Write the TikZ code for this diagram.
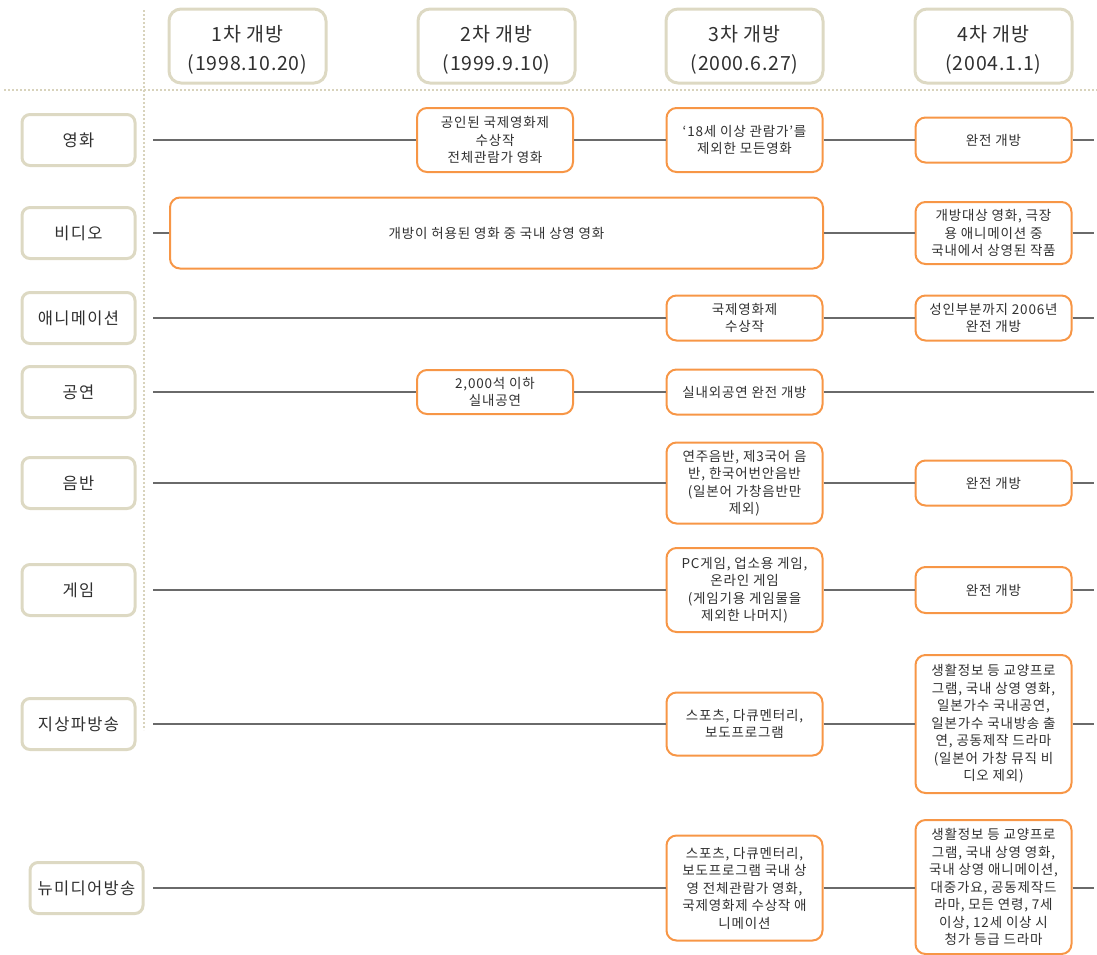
\documentclass[tikz,border=0pt]{standalone}
\usepackage{fontspec}
\setmainfont{Noto Sans CJK KR}
\newfontfamily\hdrfont[LetterSpace=4]{Noto Sans CJK KR}
\newfontfamily\labfont[LetterSpace=8]{Noto Sans CJK KR}
\newfontfamily\boxfont[LetterSpace=6]{Noto Sans CJK KR}
\definecolor{beige}{HTML}{DDD9C3}
\definecolor{dotc}{HTML}{D8D3BC}
\definecolor{orng}{HTML}{F79646}
\definecolor{linegray}{HTML}{6A6A6A}
\definecolor{txt}{HTML}{303030}
\begin{document}
\begin{tikzpicture}[x=1pt,y=-1pt,
  hdr/.style={draw=beige, line width=3pt, rounded corners=12pt, minimum width=157pt, minimum height=74pt, inner sep=0pt},
  hdrtxt/.style={align=center, inner sep=0pt, text=txt, font=\hdrfont\fontsize{19.5}{29}\selectfont},
  lab/.style={draw=beige, line width=3pt, rounded corners=8pt, minimum width=113pt, minimum height=51pt, inner sep=0pt, text=txt, font=\labfont\fontsize{16.5}{20}\selectfont},
  cbox/.style={draw=orng, line width=2pt, rounded corners=10pt, minimum width=156pt, align=center, inner sep=0pt, text=txt, font=\boxfont\fontsize{13.5}{17.5}\selectfont},
  conn/.style={draw=linegray, line width=1.3pt},
  dotl/.style={draw=dotc, line width=1.6pt, dash pattern=on 1.6pt off 2.4pt}
]
\useasboundingbox (0,0) rectangle (1097,954);
% dotted grid lines
\coordinate (vt) at (144,10);
\coordinate (vb) at (144,730);
\coordinate (hl) at (4,90);
\coordinate (hr) at (1097,90);
\draw[dotl] (vt) -- (vb);
\draw[dotl] (hl) -- (hr);
% headers
\node[hdr] (h1) at (247.5,46) {};
\node[hdr] (h2) at (496.5,46) {};
\node[hdr] (h3) at (744.5,46) {};
\node[hdr] (h4) at (993.5,46) {};
\node[hdrtxt] (t1) at ([yshift=-4pt]h1.center) {1차 개방\\(1998.10.20)};
\node[hdrtxt] (t2) at ([yshift=-4pt]h2.center) {2차 개방\\(1999.9.10)};
\node[hdrtxt] (t3) at ([yshift=-4pt]h3.center) {3차 개방\\(2000.6.27)};
\node[hdrtxt] (t4) at ([yshift=-4pt]h4.center) {4차 개방\\(2004.1.1)};
% row labels
\node[lab] (l1) at (78.5,140) {영화};
\node[lab] (l2) at (78.5,233) {비디오};
\node[lab] (l3) at (78.5,318) {애니메이션};
\node[lab] (l4) at (78.5,392) {공연};
\node[lab] (l5) at (78.5,483) {음반};
\node[lab] (l6) at (78.5,590) {게임};
\node[lab] (l7) at (78.5,724) {지상파방송};
\node[lab] (l8) at (86.5,888) {뉴미디어방송};
% start / end coordinates
\foreach \n/\y in {1/140,2/233,3/318,4/392,5/483,6/590,7/724,8/888}{
  \coordinate (s\n) at (153,\y);
  \coordinate (e\n) at (1094,\y);
}
% row 1
\node[cbox, minimum height=64pt] (b12) at (495,140) {공인된 국제영화제\\수상작\\전체관람가 영화};
\node[cbox, minimum height=64pt] (b13) at (744.5,140) {‘18세 이상 관람가’를\\제외한 모든영화};
\node[cbox, minimum height=45pt] (b14) at (993.5,140) {완전 개방};
\draw[conn] (s1) -- (b12) (b12) -- (b13) (b13) -- (b14) (b14) -- (e1);
% row 2
\node[cbox, minimum width=653pt, minimum height=71pt] (b2) at (496.5,233) {개방이 허용된 영화 중 국내 상영 영화};
\node[cbox, minimum height=62pt] (b24) at (993.5,233) {개방대상 영화, 극장\\용 애니메이션 중\\국내에서 상영된 작품};
\draw[conn] (s2) -- (b2) (b2) -- (b24) (b24) -- (e2);
% row 3
\node[cbox, minimum height=45pt] (b33) at (744.5,318) {국제영화제\\수상작};
\node[cbox, minimum height=45pt] (b34) at (993.5,318) {성인부분까지 2006년\\완전 개방};
\draw[conn] (s3) -- (b33) (b33) -- (b34) (b34) -- (e3);
% row 4
\node[cbox, minimum height=44pt] (b42) at (495,392) {2,000석 이하\\실내공연};
\node[cbox, minimum height=45pt] (b43) at (744.5,392) {실내외공연 완전 개방};
\draw[conn] (s4) -- (b42) (b42) -- (b43) (b43) -- (e4);
% row 5
\node[cbox, minimum height=81pt] (b53) at (744.5,483) {연주음반, 제3국어 음\\반, 한국어번안음반\\(일본어 가창음반만\\제외)};
\node[cbox, minimum height=45pt] (b54) at (993.5,483) {완전 개방};
\draw[conn] (s5) -- (b53) (b53) -- (b54) (b54) -- (e5);
% row 6
\node[cbox, minimum height=84pt] (b63) at (744.5,590) {PC게임, 업소용 게임,\\온라인 게임\\(게임기용 게임물을\\제외한 나머지)};
\node[cbox, minimum height=46pt] (b64) at (993.5,590) {완전 개방};
\draw[conn] (s6) -- (b63) (b63) -- (b64) (b64) -- (e6);
% row 7
\node[cbox, minimum height=63pt] (b73) at (744.5,724) {스포츠, 다큐멘터리,\\보도프로그램};
\node[cbox, minimum height=138pt] (b74) at (993.5,724) {생활정보 등 교양프로\\그램, 국내 상영 영화,\\일본가수 국내공연,\\일본가수 국내방송 출\\연, 공동제작 드라마\\(일본어 가창 뮤직 비\\디오 제외)};
\draw[conn] (s7) -- (b73) (b73) -- (b74) (b74) -- (e7);
% row 8
\node[cbox, minimum height=105pt] (b83) at (744.5,888) {스포츠, 다큐멘터리,\\보도프로그램 국내 상\\영 전체관람가 영화,\\국제영화제 수상작 애\\니메이션};
\node[cbox, minimum height=134pt] (b84) at (993.5,887) {생활정보 등 교양프로\\그램, 국내 상영 영화,\\국내 상영 애니메이션,\\대중가요, 공동제작드\\라마, 모든 연령, 7세\\이상, 12세 이상 시\\청가 등급 드라마};
\draw[conn] (s8) -- (b83) (b83.east) -- (b83.east -| b84.west) (b84.east |- e8) -- (e8);
\end{tikzpicture}
\end{document}
